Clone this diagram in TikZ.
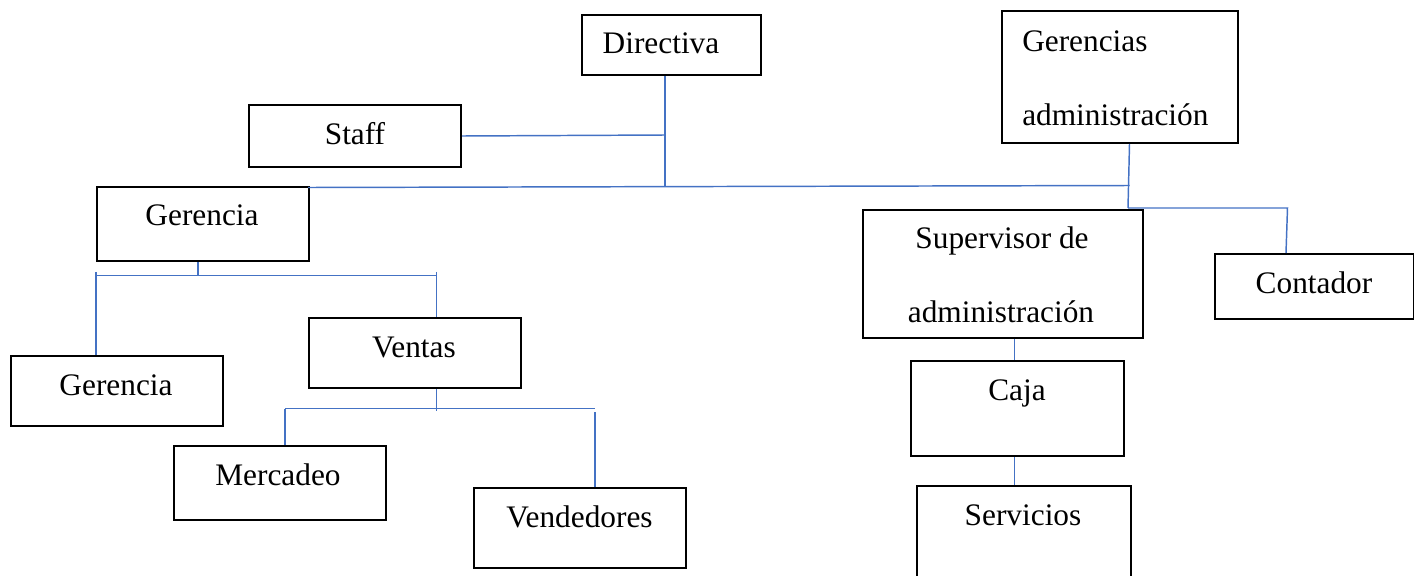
\documentclass[tikz,border=0pt]{standalone}
\usepackage{fontspec}
\setmainfont{Liberation Serif}
\definecolor{linkblue}{HTML}{4472C4}
\begin{document}
\begin{tikzpicture}[x=0.75pt,y=-0.75pt,
  box/.style={draw=black,line width=1.5pt,rectangle,inner sep=0pt,anchor=north west},
  txt/.style={inner sep=0pt,anchor=base,font=\fontsize{23.5}{28}\selectfont},
  link/.style={draw=linkblue,line width=1.1pt}]
\useasboundingbox (0,0) rectangle (1414,575);
% boxes
\node[box,minimum width=179*0.75pt,minimum height=60*0.75pt] (dir) at (581,14) {};
\node[box,minimum width=212*0.75pt,minimum height=62*0.75pt] (staff) at (248,104) {};
\node[box,minimum width=236*0.75pt,minimum height=132*0.75pt] (gadm) at (1001,10) {};
\node[box,minimum width=212*0.75pt,minimum height=74*0.75pt] (ger) at (96,186) {};
\node[box,minimum width=212*0.75pt,minimum height=70*0.75pt] (ger2) at (10,355) {};
\node[box,minimum width=212*0.75pt,minimum height=70*0.75pt] (ven) at (308,317) {};
\node[box,minimum width=212*0.75pt,minimum height=74*0.75pt] (mer) at (173,445) {};
\node[box,minimum width=212*0.75pt,minimum height=80*0.75pt] (vend) at (473,487) {};
\node[box,minimum width=280*0.75pt,minimum height=128*0.75pt] (sup) at (862,209) {};
\node[box,minimum width=199*0.75pt,minimum height=65*0.75pt] (cont) at (1214,253) {};
\node[box,minimum width=213*0.75pt,minimum height=95*0.75pt] (caja) at (910,360) {};
\node[box,minimum width=214*0.75pt,minimum height=130*0.75pt] (serv) at (916,485) {};
% texts
\node[txt] (tdir) at (661,53) {Directiva};
\node[txt] (tstaff) at (355,144) {Staff};
\node[txt,anchor=base west] (tgadm1) at (1022,51) {Gerencias};
\node[txt,anchor=base west] (tgadm2) at (1022,125) {administración};
\node[txt] (tger) at (202,225) {Gerencia};
\node[txt] (tger2) at (116,395) {Gerencia};
\node[txt] (tven) at (414,357) {Ventas};
\node[txt] (tmer) at (278,485) {Mercadeo};
\node[txt] (tvend) at (579.5,527) {Vendedores};
\node[txt] (tsup1) at (1002,248) {Supervisor de};
\node[txt] (tsup2) at (1001,322) {administración};
\node[txt] (tcont) at (1314,293) {Contador};
\node[txt] (tcaja) at (1017,400) {Caja};
\node[txt] (tserv) at (1023,525) {Servicios};
% junction coordinates
\coordinate (jdir) at (665,187);
\coordinate (jstaff) at (665,135);
\coordinate (jmainL) at (308,187.5);
\coordinate (jmainR) at (1129.5,185.5);
\coordinate (jadm) at (1128,208);
\coordinate (jcont) at (1287.5,208);
\coordinate (jger) at (198,275.5);
\coordinate (jgerL) at (96,275.5);
\coordinate (jgerR) at (436.5,275.5);
\coordinate (jven) at (436.5,408.5);
\coordinate (jvenB) at (436.5,411);
\coordinate (jvenL) at (285,408.5);
\coordinate (jvenR) at (595,408.5);
\coordinate (jvenR2) at (595,412);
% connectors
\draw[link] (staff.east) -- (jstaff);
\draw[link] (dir.south -| jdir) -- (jdir);
\draw[link] (jmainL) -- (jmainR);
\draw[link] (gadm.south -| jmainR) -- (jadm);
\draw[link] (jadm) -- (jcont) -- (cont.north -| 1286,0);
\draw[link] (ger.south -| jger) -- (jger);
\draw[link] (jgerL) -- (jgerR);
\draw[link] ([yshift=3.6*0.75pt]jgerL) -- (ger2.north -| jgerL);
\draw[link] ([yshift=3.6*0.75pt]jgerR) -- (ven.north -| jgerR);
\draw[link] (ven.south -| jven) -- (jvenB);
\draw[link] (jvenL) -- (jvenR);
\draw[link] (jvenL) -- (mer.north -| jvenL);
\draw[link] (jvenR2) -- (vend.north -| jvenR2);
\draw[link] (sup.south -| 1014.7,0) -- (caja.north -| 1014.7,0);
\draw[link] (caja.south -| 1014.7,0) -- (serv.north -| 1014.7,0);
\end{tikzpicture}
\end{document}
